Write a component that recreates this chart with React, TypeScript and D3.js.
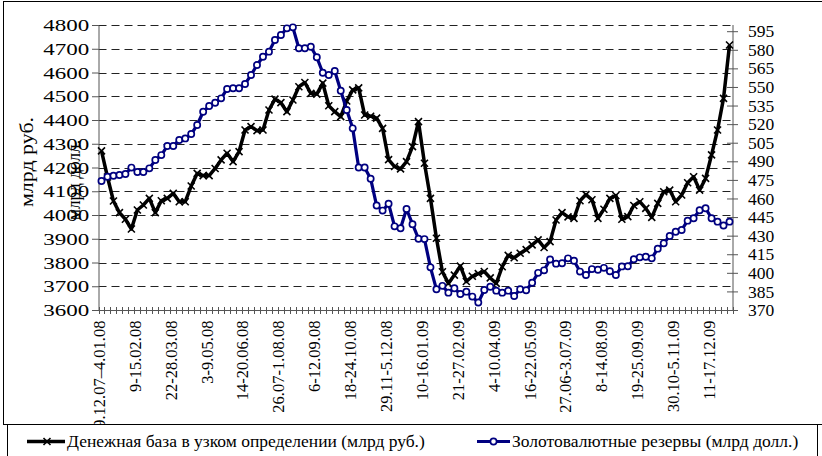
import React, { useEffect, useRef } from "react";
import * as d3 from "d3";

// weekly labels, every 6th week is shown on the axis
const tickLabels = [
  "29.12.07–4.01.08", "9-15.02.08", "22-28.03.08", "3-9.05.08", "14-20.06.08",
  "26.07-1.08.08", "6-12.09.08", "18-24.10.08", "29.11-5.12.08", "10-16.01.09",
  "21-27.02.09", "4-10.04.09", "16-22.05.09", "27.06-3.07.09", "8-14.08.09",
  "19-25.09.09", "30.10-5.11.09", "11-17.12.09",
];

// Денежная база в узком определении, млрд руб.
const moneyBase = [
  4270, 4160, 4059, 4010, 3982, 3941, 4021, 4042, 4070, 4010,
  4060, 4070, 4091, 4056, 4056, 4122, 4175, 4166, 4166, 4196,
  4232, 4260, 4225, 4267, 4358, 4372, 4355, 4358, 4442, 4488,
  4473, 4435, 4484, 4540, 4558, 4512, 4509, 4555, 4460, 4435,
  4414, 4480, 4527, 4535, 4421, 4416, 4408, 4365, 4233, 4204,
  4194, 4225, 4288, 4393, 4218, 4070, 3902, 3761, 3712, 3747,
  3785, 3720, 3742, 3753, 3762, 3735, 3712, 3782, 3830, 3820,
  3839, 3854, 3874, 3895, 3863, 3888, 3979, 4010, 3992, 3986,
  4060, 4086, 4064, 3986, 4024, 4070, 4082, 3982, 3993, 4040,
  4056, 4028, 3990, 4049, 4098, 4105, 4056, 4084, 4136, 4161,
  4105, 4154, 4253, 4358, 4491, 4716,
];

// Золотовалютные резервы, млрд долл.
const reserves = [
  474.1, 477.6, 478.4, 479.0, 479.8, 484.9, 481.4, 481.4, 484.3, 491.0,
  495.0, 502.3, 502.3, 507.2, 508.5, 512.0, 519.3, 530.0, 534.6, 537.3,
  540.8, 548.4, 548.9, 548.9, 552.4, 559.6, 567.7, 574.4, 578.5, 587.9,
  591.9, 597.3, 598.1, 581.2, 581.2, 582.5, 574.0, 561.5, 559.6, 562.9,
  547.0, 531.4, 516.6, 485.0, 485.0, 476.0, 454.3, 450.2, 455.8, 437.5,
  436.0, 451.5, 439.3, 427.5, 427.2, 404.4, 386.7, 389.5, 384.0, 387.5,
  382.9, 384.8, 380.8, 376.0, 386.1, 388.8, 385.6, 384.0, 385.6, 381.3,
  386.7, 385.9, 392.0, 400.0, 402.0, 410.7, 407.4, 407.7, 411.7, 409.8,
  401.0, 398.2, 403.0, 402.5, 404.0, 401.3, 398.2, 405.2, 405.3, 410.9,
  412.5, 413.0, 411.7, 419.5, 423.8, 429.7, 433.2, 434.6, 442.1, 444.0,
  450.5, 452.1, 444.0, 441.3, 438.2, 441.3,
];

const leftTicks = [3600, 3700, 3800, 3900, 4000, 4100, 4200, 4300, 4400, 4500, 4600, 4700, 4800];
const rightTicks = [370, 385, 400, 415, 430, 445, 460, 475, 490, 505, 520, 535, 550, 565, 580, 595];

const serif = "Liberation Serif, DejaVu Serif, serif";
const navy = "#000080";

const App = () => {
  const svgRef = useRef<SVGSVGElement>(null);
  const width = 822;
  const height = 456;
  const plot = { left: 98.5, right: 732.5, top: 25, bottom: 310 };

  useEffect(() => {
    const svg = d3.select(svgRef.current);
    svg.selectAll("*").remove();

    const x = d3
      .scaleBand<number>()
      .domain(d3.range(moneyBase.length))
      .range([plot.left, plot.right]);
    const cx = (i: number) => (x(i) as number) + x.bandwidth() / 2;
    const yL = d3.scaleLinear().domain([3600, 4800]).range([plot.bottom, plot.top]);
    const yR = d3.scaleLinear().domain([370, 600]).range([plot.bottom, plot.top]);

    // chart border
    svg
      .append("rect")
      .attr("x", 3.5)
      .attr("y", 1.5)
      .attr("width", 840)
      .attr("height", 423)
      .attr("fill", "#fff")
      .attr("stroke", "#000");

    // dashed gridlines
    svg
      .append("g")
      .selectAll("line")
      .data(leftTicks.slice(1))
      .join("line")
      .attr("x1", plot.left)
      .attr("x2", plot.right)
      .attr("y1", (d) => Math.round(yL(d)) + 0.5)
      .attr("y2", (d) => Math.round(yL(d)) + 0.5)
      .attr("stroke", "#222")
      .attr("stroke-dasharray", "8,5");

    // left axis
    const gl = svg
      .append("g")
      .attr("transform", `translate(${plot.left},0)`)
      .call(
        d3.axisLeft(yL).tickValues(leftTicks).tickFormat(d3.format("d")).tickSize(6.5).tickPadding(2.7)
      );
    gl.select(".domain").attr("stroke", "#555");
    gl.selectAll(".tick line").attr("stroke", "#555");
    gl.selectAll(".tick text")
      .style("font-family", serif)
      .style("font-size", "17.5px")
      .attr("fill", "#000")
      .attr("textLength", 46)
      .attr("lengthAdjust", "spacingAndGlyphs");

    // right axis
    const gr = svg
      .append("g")
      .attr("transform", `translate(${plot.right},0)`)
      .call(d3.axisRight(yR).tickValues(rightTicks).tickSize(5.5));
    gr.select(".domain").attr("stroke", "#555").attr("d", `M0.5,${plot.top}V${plot.bottom}`);
    gr.selectAll(".tick line").attr("x1", -5.5).attr("x2", 5.5).attr("stroke", "#555");
    gr.selectAll(".tick text")
      .attr("x", 15.5)
      .style("font-family", serif)
      .style("font-size", "17.5px")
      .attr("fill", "#000");

    // category axis
    svg
      .append("line")
      .attr("x1", plot.left)
      .attr("x2", plot.right)
      .attr("y1", plot.bottom + 0.5)
      .attr("y2", plot.bottom + 0.5)
      .attr("stroke", "#555");
    svg
      .append("g")
      .selectAll("line")
      .data(d3.range(moneyBase.length + 1))
      .join("line")
      .attr("x1", (j) => Math.round(plot.left + j * x.step()) + 0.5)
      .attr("x2", (j) => Math.round(plot.left + j * x.step()) + 0.5)
      .attr("y1", plot.bottom - 3)
      .attr("y2", plot.bottom + 4)
      .attr("stroke", "#555");

    svg
      .append("g")
      .selectAll("text")
      .data(tickLabels)
      .join("text")
      .attr("transform", (d, i) => `translate(${cx(i * 6) - 2},${plot.bottom + 10.5}) rotate(-90)`)
      .attr("text-anchor", "end")
      .attr("dy", "0.33em")
      .style("font-family", serif)
      .style("font-size", "16.5px")
      .text((d) => d);

    // axis titles
    svg
      .append("text")
      .attr("transform", "translate(33,162) rotate(-90)")
      .attr("text-anchor", "middle")
      .style("font-family", serif)
      .style("font-size", "18px")
      .attr("textLength", 90)
      .attr("lengthAdjust", "spacingAndGlyphs")
      .text("млрд руб.");
    svg
      .append("text")
      .attr("transform", "translate(80,180) rotate(-90)")
      .attr("text-anchor", "middle")
      .style("font-family", serif)
      .style("font-size", "18px")
      .attr("textLength", 80)
      .attr("lengthAdjust", "spacingAndGlyphs")
      .text("млрд долл.");

    const cross = "M-3.5,-3.5L3.5,3.5M-3.5,3.5L3.5,-3.5";

    // money base (left axis)
    svg
      .append("path")
      .datum(moneyBase)
      .attr("fill", "none")
      .attr("stroke", "#000")
      .attr("stroke-width", 3.5)
      .attr("stroke-linejoin", "round")
      .attr(
        "d",
        d3.line<number>().x((d, i) => cx(i)).y((d) => yL(d))
      );
    svg
      .append("g")
      .selectAll("path")
      .data(moneyBase)
      .join("path")
      .attr("transform", (d, i) => `translate(${cx(i)},${yL(d)})`)
      .attr("d", cross)
      .attr("stroke", "#000")
      .attr("stroke-width", 1.6)
      .attr("fill", "none");

    // reserves (right axis)
    svg
      .append("path")
      .datum(reserves)
      .attr("fill", "none")
      .attr("stroke", navy)
      .attr("stroke-width", 3.2)
      .attr("stroke-linejoin", "round")
      .attr(
        "d",
        d3.line<number>().x((d, i) => cx(i)).y((d) => yR(d))
      );
    svg
      .append("g")
      .selectAll("circle")
      .data(reserves)
      .join("circle")
      .attr("cx", (d, i) => cx(i))
      .attr("cy", (d) => yR(d))
      .attr("r", 3.1)
      .attr("fill", "#fff")
      .attr("stroke", navy)
      .attr("stroke-width", 1.7);

    // legend
    const lg = svg.append("g");
    lg.append("rect")
      .attr("x", 7.5)
      .attr("y", 424.5)
      .attr("width", 810)
      .attr("height", 50)
      .attr("fill", "#fff")
      .attr("stroke", "#000");

    lg.append("line")
      .attr("x1", 27).attr("x2", 65).attr("y1", 441.5).attr("y2", 441.5)
      .attr("stroke", "#000").attr("stroke-width", 3.5);
    lg.append("path")
      .attr("transform", "translate(47,441.5)")
      .attr("d", cross)
      .attr("stroke", "#000")
      .attr("stroke-width", 1.6);
    lg.append("text")
      .attr("x", 67).attr("y", 447)
      .style("font-family", serif)
      .style("font-size", "17.5px")
      .text("Денежная база в узком определении (млрд руб.)");

    lg.append("line")
      .attr("x1", 477).attr("x2", 510).attr("y1", 441.5).attr("y2", 441.5)
      .attr("stroke", navy).attr("stroke-width", 3.2);
    lg.append("circle")
      .attr("cx", 493.5).attr("cy", 441.5).attr("r", 3.1)
      .attr("fill", "#fff").attr("stroke", navy).attr("stroke-width", 1.7);
    lg.append("text")
      .attr("x", 512).attr("y", 447)
      .style("font-family", serif)
      .style("font-size", "17.5px")
      .text("Золотовалютные резервы (млрд долл.)");
  }, []);

  return (
    <svg
      ref={svgRef}
      width={width}
      height={height}
      style={{ position: "absolute", left: 0, top: 0, background: "#fff" }}
    ></svg>
  );
};

export default App;
